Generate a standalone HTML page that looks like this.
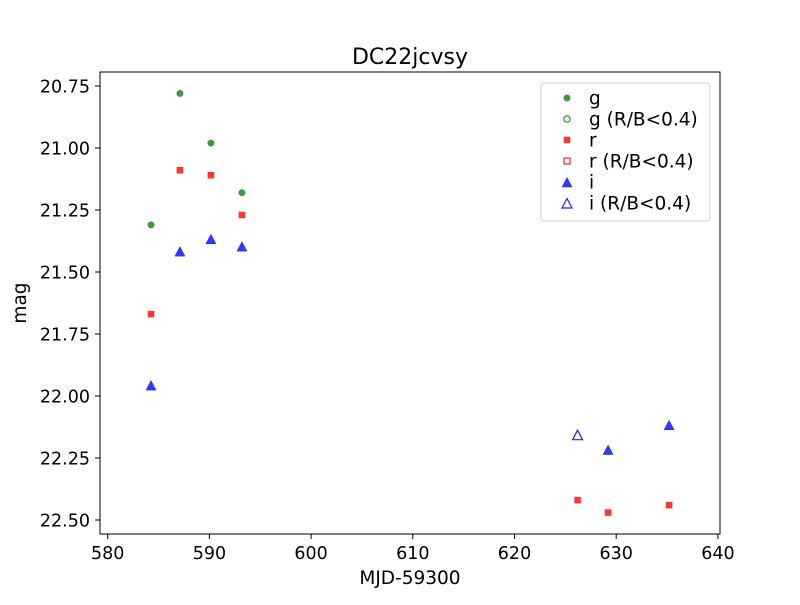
<!DOCTYPE html>
<html><head><meta charset="utf-8"><style>
body{margin:0;background:#fff}
svg{font-family:"DejaVu Sans","Liberation Sans",sans-serif}
</style></head><body>
<svg id="chart" width="800" height="600" viewBox="0 0 800 600">
<rect width="800" height="600" fill="#fff"/>
<text x="410" y="64" font-size="22" text-anchor="middle">DC22jcvsy</text>
<g id="marks"></g>
<rect x="100" y="72" width="620" height="462" fill="none" stroke="#000" stroke-width="1"/>
<g id="xticks"></g><g id="yticks"></g>
<text x="410" y="584" font-size="18.5" text-anchor="middle">MJD-59300</text>
<text x="26" y="303" font-size="18.5" text-anchor="middle" transform="rotate(-90 26 303)">mag</text>
<g id="legend">
<rect x="541" y="83" width="169" height="138" rx="3" fill="#fff" stroke="#ccc" opacity="0.9"/>
</g>
</svg>
<script>
const xTicks=[580,590,600,610,620,630,640];
const yTicks=["20.75","21.00","21.25","21.50","21.75","22.00","22.25","22.50"];
const gX=[584.26,587.1,590.15,593.2];
const gY=[21.31,20.78,20.98,21.18];
const rX=[584.26,587.1,590.15,593.2,626.2,629.2,635.2];
const rY=[21.67,21.09,21.11,21.27,22.42,22.47,22.44];
const iX=[584.26,587.1,590.15,593.2,629.2,635.2];
const iY=[21.96,21.42,21.37,21.40,22.22,22.12];
const iOpenX=[626.2];
const iOpenY=[22.16];
const NS="http://www.w3.org/2000/svg";
const xs=v=>107.7+(v-580)*10.17;
const ys=v=>86+(v-20.75)*248;
function mk(tag,attrs,parent){const e=document.createElementNS(NS,tag);for(const k in attrs)e.setAttribute(k,attrs[k]);parent.appendChild(e);return e;}
const marks=document.getElementById('marks');
const G="#2e8b2e",R="#ff2020",B="#2020ff";
function marker(type,cx,cy,color,open,parent){
 let e;
 if(type==='o') e=mk('circle',{cx:cx,cy:cy,r:3.2},parent);
 else if(type==='s') e=mk('rect',{x:cx-3,y:cy-3,width:6,height:6},parent);
 else e=mk('polygon',{points:`${cx},${cy-5.5} ${cx-5},${cy+4} ${cx+5},${cy+4}`},parent);
 e.setAttribute('fill',open?'none':color);
 e.setAttribute('stroke',color);
 e.setAttribute('stroke-width',open?1.2:0.5);
 e.setAttribute('fill-opacity','0.9');
 return e;
}
gX.forEach((v,k)=>{const e=marker('o',xs(v),ys(gY[k]),G,false,marks);

});
rX.forEach((v,k)=>{const e=marker('s',xs(v),ys(rY[k]),R,false,marks);

});
iX.forEach((v,k)=>{const e=marker('t',xs(v),ys(iY[k]),B,false,marks);

});
iOpenX.forEach((v,k)=>{const e=marker('t',xs(v),ys(iOpenY[k]),B,true,marks);

});
const xt=document.getElementById('xticks');
xTicks.forEach(v=>{const x=xs(v);
 mk('line',{x1:x,x2:x,y1:534,y2:539,stroke:'#000'},xt);
 const t=mk('text',{x:x,y:559,'font-size':17.5,'text-anchor':'middle'},xt);t.textContent=v;
 
 });
const yt=document.getElementById('yticks');
yTicks.forEach(v=>{const y=ys(parseFloat(v));
 mk('line',{x1:95,x2:100,y1:y,y2:y,stroke:'#000'},yt);
 const t=mk('text',{x:90,y:y+6.5,'font-size':17.5,'text-anchor':'end'},yt);t.textContent=v;
 
 });
const lg=document.getElementById('legend');
const entries=[['o',G,false,'g'],['o',G,true,'g (R/B<0.4)'],['s',R,false,'r'],['s',R,true,'r (R/B<0.4)'],['t',B,false,'i'],['t',B,true,'i (R/B<0.4)']];
entries.forEach((en,k)=>{const y=98+k*21;
 marker(en[0],567,y+(en[0]==='t'?1:0),en[1],en[2],lg);
 const t=mk('text',{x:589,y:y+6.5,'font-size':18.5},lg);t.textContent=en[3];
 
 });
</script>
</body></html>
